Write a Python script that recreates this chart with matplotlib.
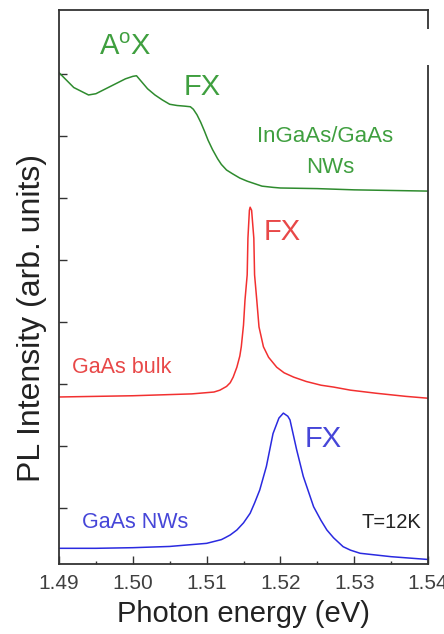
import numpy as np
import matplotlib
matplotlib.use('Agg')
import matplotlib.pyplot as plt
from matplotlib.patches import Rectangle
from matplotlib.ticker import MultipleLocator

plt.rcParams['font.family'] = ['Liberation Sans', 'DejaVu Sans']
plt.rcParams['mathtext.fontset'] = 'custom'
plt.rcParams['mathtext.rm'] = 'Liberation Sans'

# InGaAs/GaAs NWs (offset trace, top)
green_e = [1.4900, 1.4910, 1.4920, 1.4930, 1.4940, 1.4950, 1.4960, 1.4970, 1.4980,
           1.4990, 1.5000, 1.5005, 1.5010, 1.5020, 1.5030, 1.5040, 1.5050, 1.5060,
           1.5070, 1.5078, 1.5082, 1.5087, 1.5092, 1.5097, 1.5102, 1.5108, 1.5115,
           1.5120, 1.5127, 1.5135, 1.5145, 1.5155, 1.5165, 1.5175, 1.5190, 1.5200,
           1.5250, 1.5300, 1.5350, 1.5400]
green_i = [8.02, 7.90, 7.78, 7.72, 7.66, 7.68, 7.74, 7.80, 7.86,
           7.92, 7.96, 7.97, 7.90, 7.76, 7.66, 7.58, 7.51, 7.49,
           7.48, 7.47, 7.43, 7.34, 7.22, 7.08, 6.93, 6.78, 6.63,
           6.54, 6.45, 6.39, 6.32, 6.27, 6.23, 6.19, 6.17, 6.16,
           6.15, 6.13, 6.12, 6.11]

# GaAs bulk (middle)
red_e = [1.4900, 1.5000, 1.5080, 1.5110, 1.5118, 1.5127, 1.5132, 1.5136, 1.5141,
         1.5145, 1.5147, 1.5150, 1.5152, 1.5155, 1.5156, 1.5158, 1.5159, 1.5161,
         1.5164, 1.5165, 1.5168, 1.5171, 1.5177, 1.5184, 1.5195, 1.5205, 1.5218,
         1.5235, 1.5255, 1.5272, 1.5295, 1.5330, 1.5370, 1.5400]
red_i = [2.79, 2.81, 2.84, 2.87, 2.90, 2.96, 3.02, 3.11, 3.27,
         3.45, 3.60, 3.95, 4.35, 4.76, 5.35, 5.80, 5.85, 5.80,
         5.35, 4.76, 4.35, 3.92, 3.60, 3.43, 3.27, 3.18, 3.11,
         3.04, 2.98, 2.95, 2.90, 2.85, 2.80, 2.77]

# GaAs NWs (bottom)
blue_e = [1.4900, 1.4950, 1.5000, 1.5050, 1.5100, 1.5120, 1.5125, 1.5132, 1.5141,
          1.5150, 1.5159, 1.5165, 1.5172, 1.5181, 1.5190, 1.5198, 1.5204, 1.5210,
          1.5213, 1.5222, 1.5231, 1.5245, 1.5255, 1.5263, 1.5272, 1.5285, 1.5295,
          1.5308, 1.5350, 1.5400]
blue_i = [0.35, 0.35, 0.36, 0.38, 0.43, 0.49, 0.52, 0.565, 0.645,
          0.76, 0.915, 1.08, 1.29, 1.67, 2.20, 2.45, 2.53, 2.48,
          2.42, 1.94, 1.51, 1.02, 0.80, 0.645, 0.52, 0.376, 0.32,
          0.27, 0.215, 0.17]

GREEN, RED, BLUE = '#2e8b2e', '#f23030', '#2a2ae0'
GREEN_T, RED_T, BLUE_T = '#3f9f3f', '#e84848', '#4646d8'

fig = plt.figure(figsize=(4.44, 6.34), dpi=100)
ax = fig.add_axes([59 / 444, 70 / 634, 369 / 444, 554 / 634])

ax.plot(green_e, green_i, color=GREEN, lw=1.1)
ax.plot(red_e, red_i, color=RED, lw=1.1)
ax.plot(blue_e, blue_i, color=BLUE, lw=1.1)

ax.set_xlim(1.49, 1.54)
ax.set_ylim(0.097, 9.03)
ax.xaxis.set_minor_locator(MultipleLocator(0.005))
ax.set_xticks([1.49, 1.50, 1.51, 1.52, 1.53, 1.54])
ax.set_xticklabels(['1.49', '1.50', '1.51', '1.52', '1.53', '1.54'])
ax.set_yticks([1, 2, 3, 4, 5, 6, 7, 8])
ax.set_yticklabels([])
ax.tick_params(axis='both', which='major', direction='in', length=5.5, width=1.0,
               color='#333333', labelsize=15, labelcolor='#404040', pad=7)
ax.tick_params(axis='x', which='minor', direction='in', length=2.5, width=1.0,
               color='#333333')
for sp in ax.spines.values():
    sp.set_color('#333333')
    sp.set_linewidth(1.3)

ax.set_xlabel('Photon energy (eV)', fontsize=21, color='#222222', labelpad=5)
fig.text(32 / 444, 1 - 318 / 634, 'PL Intensity (arb. units)', rotation=90,
         ha='center', va='center', fontsize=23, color='#222222')

# peak / sample labels
ax.text(1.49894, 8.31, r'A$^{\mathrm{o}}$X', color=GREEN_T, fontsize=21,
        ha='center', va='baseline')
ax.text(1.50944, 7.66, 'FX', color=GREEN_T, fontsize=21, ha='center', va='baseline')
ax.text(1.52604, 6.908, 'InGaAs/GaAs', color=GREEN_T, fontsize=16,
        ha='center', va='baseline')
ax.text(1.52670, 6.398, 'NWs', color=GREEN_T, fontsize=16, ha='center', va='baseline')
ax.text(1.52028, 5.323, 'FX', color=RED_T, fontsize=21, ha='center', va='baseline')
ax.text(1.49172, 3.173, 'GaAs bulk', color=RED_T, fontsize=15.5, ha='left',
        va='baseline')
ax.text(1.52584, 1.989, 'FX', color=BLUE_T, fontsize=21, ha='center', va='baseline')
ax.text(1.49307, 0.673, 'GaAs NWs', color=BLUE_T, fontsize=15.5, ha='left',
        va='baseline')
ax.text(1.53915, 0.673, 'T=12K', color='#222222', fontsize=14.5, ha='right',
        va='baseline')

# white patch over the right spine near the top (as in the source image)
fig.patches.append(Rectangle((395 / 444, 1 - 65 / 634), 49 / 444, 36 / 634,
                             transform=fig.transFigure, facecolor='white',
                             edgecolor='none', zorder=10))

fig.savefig('out.png', dpi=100)
